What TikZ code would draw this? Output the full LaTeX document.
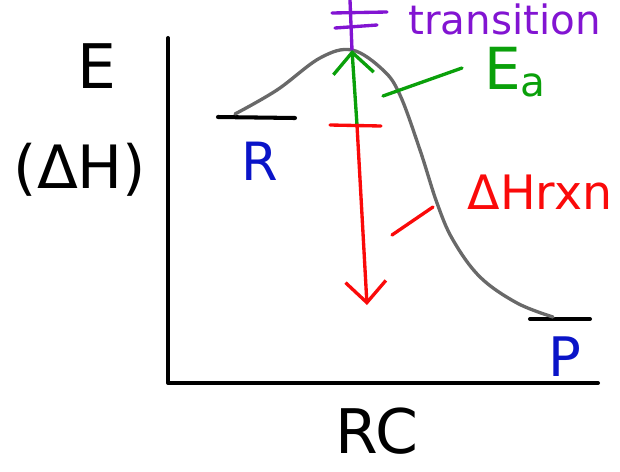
\documentclass[tikz,border=0pt]{standalone}
\usepackage{fontspec}
\setmainfont{DejaVu Sans}
\definecolor{tspurple}{RGB}{130, 20, 210}
\definecolor{eagreen}{RGB}{10, 160, 10}
\definecolor{dhred}{RGB}{250, 10, 10}
\definecolor{rpblue}{RGB}{10, 20, 200}
\definecolor{curvegray}{RGB}{105, 105, 105}
\usetikzlibrary{arrows.meta, positioning}

\tikzset{
  pen/.style={line width=1.9pt, line cap=round, line join=round},
  axis/.style={pen, line width=2.3pt, black},
  lbl/.style={inner sep=0pt, font=\fontsize{#1pt}{#1pt}\selectfont},
  barb/.style={-{Straight Barb[length=12pt, width=23pt, line width=1.9pt]}}
}

\begin{document}
\begin{tikzpicture}[x=0.02cm, y=-0.02cm]
\useasboundingbox (0,0) rectangle (620,471);
% axes and levels
\coordinate (origin) at (168,383);
\coordinate (ytop) at (168,38);
\coordinate (xend) at (598,383);
\draw[axis] (ytop) -- (origin) -- (xend);
\coordinate (rl) at (218,117);
\coordinate (rr) at (295,118);
\coordinate (pl) at (530,319);
\coordinate (pr) at (590,319);
\draw[axis] (rl) -- (rr);
\draw[axis] (pl) -- (pr);
% energy curve
\coordinate (peak) at (352,50);
\draw[pen, curvegray] plot[smooth, tension=0.6] coordinates {(235,114) (277,90) (320,58) (352,50) (383,70) (400,95) (420,150) (437,203) (453,240) (480,277) (517,303) (553,317)};
% transition state mark
\coordinate (tstop) at (350,0);
\draw[pen, tspurple] (peak) -- (tstop);
\draw[pen, tspurple] (332,13) -- (387,12);
\draw[pen, tspurple] (335,28) -- (377,25);
\node[lbl=23, tspurple, anchor=west] (ts) at (408,19) {transition};
% activation energy
\coordinate (dhtop) at (357,125);
\draw[pen, eagreen, barb] (dhtop) -- (peak);
\node[lbl=33, eagreen, anchor=west] (ea) at (484,72) {E\textsubscript{a}};
\coordinate (eaa) at (383,96);
\coordinate (eab) at (462,68);
\draw[pen, eagreen] (eaa) -- (eab);
% reaction enthalpy
\coordinate (dhbot) at (367,305);
\draw[pen, dhred] (330,125) -- (381,126);
\draw[pen, dhred, barb] (dhtop) -- (dhbot);
\node[lbl=27, dhred] (dh) at (540,192) {ΔHrxn};
\coordinate (dha) at (392,235);
\coordinate (dhb) at (433,207);
\draw[pen, dhred] (dha) -- (dhb);
% labels
\node[lbl=35] (elbl) at (97,66) {E};
\node[lbl=34] (dhlbl) at (80,170) {(ΔH)};
\node[lbl=30, rpblue] (rlbl) at (260,161) {R};
\node[lbl=31, rpblue] (plbl) at (565,357) {P};
\node[lbl=35] (rc) at (377,431) {RC};
\end{tikzpicture}
\end{document}
